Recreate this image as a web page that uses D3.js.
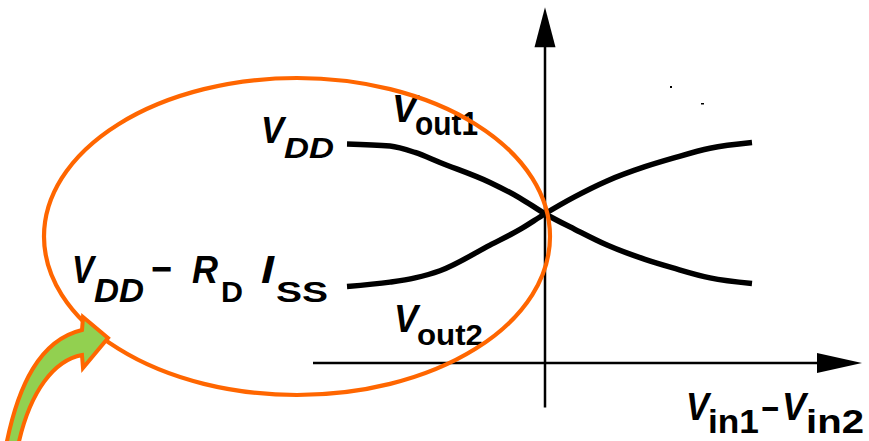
<!DOCTYPE html>
<html>
<head>
<meta charset="utf-8">
<script src="https://cdn.jsdelivr.net/npm/d3@7/dist/d3.min.js"></script>
<style>
  html, body { margin: 0; padding: 0; background: #fff; }
  svg { display: block; }
  text { font-family: "Liberation Sans", Arial, Helvetica, sans-serif; font-weight: 700; fill: #000; }
</style>
</head>
<body>
<svg id="chart" width="869" height="441"></svg>
<script>
// Differential input voltage (normalised units) and the two output voltages,
// expressed as a fraction of the swing between VDD - RD*ISS (0) and VDD (1).
const dVin  = [-1.98, -1.55, -1.30, -1.05, -0.55, -0.25, 0, 0.30, 0.62, 1.00, 1.28, 1.65, 2.07];
const vout1 = [0.99, 0.975, 0.93, 0.86, 0.72, 0.61, 0.50, 0.39, 0.28, 0.18, 0.12, 0.05, 0.01];
const vout2 = [-0.01, 0.02, 0.05, 0.10, 0.28, 0.39, 0.50, 0.62, 0.73, 0.83, 0.89, 0.96, 1.00];

// Level labels on the vertical axis
const levelValues = [1, 0];
const seriesNames = ["out1", "out2"];
const axisTitle = ["in1", "in2"];

const svg = d3.select("#chart");

const x = d3.scaleLinear().domain([-2, 2]).range([345, 745]);
const y = d3.scaleLinear().domain([0, 1]).range([285, 142.5]);

// Axis extents in data units
const xAxisSpan = [-2.32, 3.17];
const yAxisSpan = [-0.86, 1.95];
const xAxisLevel = -0.548;

const ink = "#000";
const orange = "#FF6600";

// ---- axes ----
const axes = svg.append("g");
axes.append("line")
  .attr("x1", x(0)).attr("x2", x(0))
  .attr("y1", y(yAxisSpan[1]) + 10).attr("y2", y(yAxisSpan[0]))
  .attr("stroke", ink).attr("stroke-width", 2.5);
axes.append("line")
  .attr("x1", x(xAxisSpan[0])).attr("x2", x(xAxisSpan[1]) - 10)
  .attr("y1", y(xAxisLevel)).attr("y2", y(xAxisLevel))
  .attr("stroke", ink).attr("stroke-width", 2.5);

// arrowheads
const up = d3.path();
up.moveTo(x(0), y(yAxisSpan[1]));
up.lineTo(x(0) + 10.5, y(yAxisSpan[1]) + 40);
up.lineTo(x(0) - 10.5, y(yAxisSpan[1]) + 40);
up.closePath();
axes.append("path").attr("d", up.toString()).attr("fill", ink);

const right = d3.path();
right.moveTo(x(xAxisSpan[1]), y(xAxisLevel));
right.lineTo(x(xAxisSpan[1]) - 45, y(xAxisLevel) - 10);
right.lineTo(x(xAxisSpan[1]) - 45, y(xAxisLevel) + 10);
right.closePath();
axes.append("path").attr("d", right.toString()).attr("fill", ink);

// ---- transfer curves ----
const line = d3.line()
  .x(d => x(d[0]))
  .y(d => y(d[1]))
  .curve(d3.curveMonotoneX);

[vout1, vout2].forEach(series => {
  svg.append("path")
    .datum(dVin.map((v, i) => [v, series[i]]))
    .attr("d", line)
    .attr("fill", "none")
    .attr("stroke", ink)
    .attr("stroke-width", 5.5)
    .attr("stroke-linecap", "butt");
});

// ---- labels ----
// each part: text, left edge, advance width, baseline, size, italic
function label(parts) {
  const g = svg.append("g");
  parts.forEach(p => {
    g.append("text")
      .attr("x", p.x)
      .attr("y", p.base)
      .attr("font-size", p.size)
      .attr("font-style", p.italic ? "italic" : "normal")
      .attr("textLength", p.w)
      .attr("lengthAdjust", "spacingAndGlyphs")
      .text(p.t);
  });
}

// VDD level
label([
  { t: "V", x: 261, w: 23, base: 143, size: 36, italic: true },
  { t: "DD", x: 284, w: 50, base: 158, size: 30, italic: true }
]);

// VDD - RD ISS level
label([
  { t: "V", x: 72, w: 22, base: 283, size: 39, italic: true },
  { t: "DD", x: 94, w: 50, base: 302, size: 33, italic: true },
  { t: "\u2212", x: 151, w: 21, base: 283, size: 42, italic: false },
  { t: "R", x: 192, w: 26, base: 283, size: 39, italic: true },
  { t: "D", x: 221, w: 22, base: 302, size: 29, italic: false },
  { t: "I", x: 261, w: 13, base: 283, size: 39, italic: true },
  { t: "SS", x: 276, w: 52, base: 302, size: 29, italic: false }
]);

// series names
label([
  { t: "V", x: 392, w: 25, base: 122, size: 38, italic: true },
  { t: seriesNames[0], x: 415, w: 63, base: 135, size: 33, italic: false }
]);
label([
  { t: "V", x: 394, w: 24, base: 332, size: 39, italic: true },
  { t: seriesNames[1], x: 417, w: 66, base: 345, size: 30, italic: false }
]);

// horizontal axis title
label([
  { t: "V", x: 686, w: 23, base: 420, size: 38, italic: true },
  { t: axisTitle[0], x: 708, w: 51, base: 433, size: 33, italic: false },
  { t: "\u2212", x: 761, w: 18, base: 421, size: 36, italic: false },
  { t: "V", x: 782, w: 24, base: 420, size: 38, italic: true },
  { t: axisTitle[1], x: 806, w: 58, base: 433, size: 33, italic: false }
]);

// scan specks near the upper right
svg.append("rect").attr("x", 670).attr("y", 86).attr("width", 2).attr("height", 2).attr("fill", ink);
svg.append("rect").attr("x", 701).attr("y", 103).attr("width", 3).attr("height", 1.5).attr("fill", ink);

// ---- highlight ellipse around the output levels ----
svg.append("ellipse")
  .attr("cx", 297).attr("cy", 236.5)
  .attr("rx", 253).attr("ry", 158.5)
  .attr("fill", "none")
  .attr("stroke", orange)
  .attr("stroke-width", 4.2);

// ---- pointer arrow ----
const arrow = d3.path();
arrow.moveTo(82, 330);
arrow.lineTo(83, 317);
arrow.lineTo(108, 338);
arrow.lineTo(83, 368);
arrow.lineTo(82, 355);
arrow.bezierCurveTo(55, 360, 30, 390, 18, 446);
arrow.lineTo(6, 446);
arrow.bezierCurveTo(18, 385, 40, 340, 82, 330);
arrow.closePath();
svg.append("path")
  .attr("d", arrow.toString())
  .attr("fill", "#92D050")
  .attr("stroke", orange)
  .attr("stroke-width", 4)
  .attr("stroke-linejoin", "miter");
</script>
</body>
</html>
